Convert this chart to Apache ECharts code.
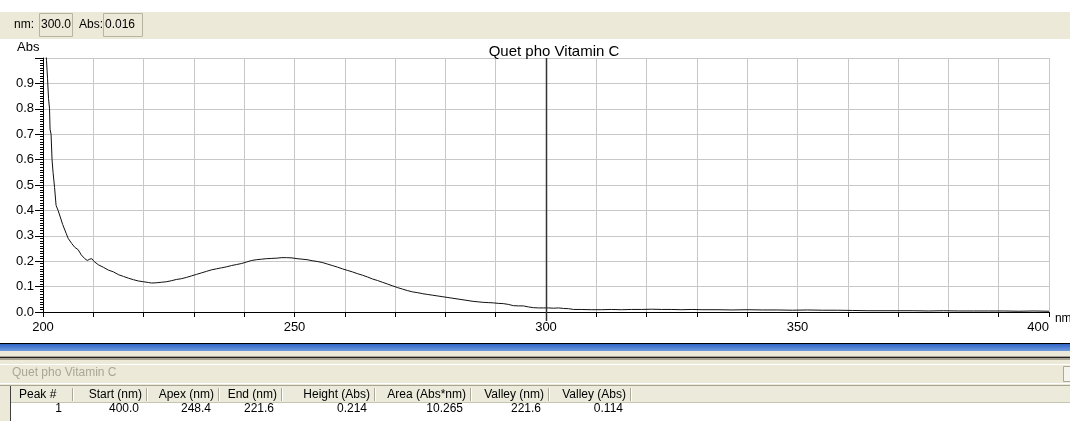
<!DOCTYPE html>
<html><head><meta charset="utf-8">
<script src="https://cdn.jsdelivr.net/npm/echarts@6/dist/echarts.min.js"></script>
<style>html,body{margin:0;padding:0;background:#fff;}#c{width:1070px;height:421px;}</style>
</head><body><div id="c"></div>
<script>
// ---- data ----
const chartTitle = 'Quet pho Vitamin C';
const wavelengths = [200.5,200.7,200.9,201.1,201.3,201.4,201.6,201.8,202.0,202.3,202.6,203.0,203.5,203.9,204.2,204.6,205.0,205.7,206.3,207.0,207.6,208.3,208.8,209.3,209.7,210.2,211,212,213,214,215,216,217,218,219,220,221,221.6,222.5,223.5,224.5,225.5,226.5,227.5,228.5,229.5,230.5,231.5,232.5,233.5,234.5,235.5,236.5,237.5,238.5,239.5,240.5,241.5,242.5,243.5,244.5,245.5,246.5,247.5,248.4,249.5,250.5,251.5,252.5,253.5,254.5,255.5,256.5,257.5,258.5,259.5,260.5,261.5,262.5,263.5,264.5,265.5,266.5,267.5,268.5,269.5,270.5,271.5,272.5,273.5,274.5,275.5,276.5,277.5,278.5,279.5,280.5,281.5,282.5,283.5,284.5,285.5,286.5,287.5,288.5,289.5,290.5,291.5,292.5,293.5,294.5,295.5,296.5,297.5,298.5,299.5,300.5,301.5,302.5,303.5,304.5,305.5,307,309,311,313,315,317,319,321,323,325,327,329,331,334,337,340,343,346,349,352,355,358,361,364,367,370,373,376,379,382,385,388,391,394,397,400];
const absorbance = [1.05,0.99,0.92,0.84,0.80,0.72,0.70,0.60,0.55,0.49,0.42,0.40,0.37,0.345,0.34,0.31,0.29,0.27,0.255,0.245,0.225,0.21,0.203,0.208,0.21,0.198,0.186,0.176,0.165,0.158,0.147,0.140,0.133,0.127,0.122,0.119,0.116,0.114,0.115,0.117,0.119,0.123,0.128,0.131,0.136,0.142,0.148,0.154,0.160,0.166,0.170,0.174,0.178,0.183,0.187,0.191,0.197,0.203,0.206,0.208,0.210,0.211,0.212,0.214,0.214,0.213,0.210,0.208,0.206,0.202,0.199,0.195,0.189,0.183,0.177,0.170,0.164,0.158,0.151,0.145,0.138,0.130,0.124,0.117,0.110,0.103,0.096,0.090,0.084,0.079,0.076,0.072,0.069,0.066,0.063,0.060,0.057,0.054,0.051,0.048,0.045,0.042,0.040,0.038,0.037,0.036,0.034,0.033,0.030,0.025,0.024,0.024,0.020,0.017,0.016,0.016,0.016,0.015,0.016,0.014,0.013,0.010,0.010,0.009,0.009,0.010,0.009,0.010,0.010,0.011,0.010,0.010,0.009,0.010,0.009,0.009,0.008,0.009,0.008,0.008,0.007,0.008,0.007,0.007,0.006,0.005,0.005,0.005,0.005,0.004,0.005,0.004,0.004,0.004,0.004,0.003,0.004,0.003];
const xLabels = [200, 250, 300, 350, 400];
const yLabels = ['0.0','0.1','0.2','0.3','0.4','0.5','0.6','0.7','0.8','0.9'];
const cursorNm = 300.0;
const cursorAbs = 0.016;
const tableHeaders = ['Peak #','Start (nm)','Apex (nm)','End (nm)','Height (Abs)','Area (Abs*nm)','Valley (nm)','Valley (Abs)'];
const tableRow = ['1','400.0','248.4','221.6','0.214','10.265','221.6','0.114'];

// ---- layout / style ----
const FONT = '"Liberation Sans", Arial, sans-serif';
const colRight = [72, 146, 218, 281, 374, 470, 548, 630];

const chart = echarts.init(document.getElementById('c'), null, {renderer: 'canvas'});
const seriesData = wavelengths.map((w, i) => [w, absorbance[i]]);

const g = [];
// top toolbar
g.push({type:'rect', shape:{x:0,y:12,width:1070,height:27}, style:{fill:'#ECE9D8'}, silent:true});
g.push({type:'text', style:{x:14, y:25, text:'nm:', font:'12px '+FONT, fill:'#000', textVerticalAlign:'middle'}});
g.push({type:'rect', shape:{x:39.5,y:13.5,width:33,height:23}, style:{fill:'#ECE9D8', stroke:'#B8B4A2', lineWidth:1}});
g.push({type:'text', style:{x:41, y:25, text:cursorNm.toFixed(1), font:'12px '+FONT, fill:'#000', textVerticalAlign:'middle'}});
g.push({type:'text', style:{x:79, y:25, text:'Abs:', font:'12px '+FONT, fill:'#000', textVerticalAlign:'middle'}});
g.push({type:'rect', shape:{x:103.5,y:13.5,width:39,height:23}, style:{fill:'#ECE9D8', stroke:'#B8B4A2', lineWidth:1}});
g.push({type:'text', style:{x:105, y:25, text:cursorAbs.toFixed(3), font:'12px '+FONT, fill:'#000', textVerticalAlign:'middle'}});
// y-axis name
g.push({type:'text', style:{x:17, y:47, text:'Abs', font:'13px '+FONT, fill:'#000', textVerticalAlign:'middle'}});

// bottom panel
g.push({type:'rect', shape:{x:0,y:343,width:1070,height:1}, style:{fill:'#000'}});
g.push({type:'rect', shape:{x:0,y:344,width:1070,height:7}, style:{fill:new echarts.graphic.LinearGradient(0,0,0,1,[{offset:0,color:'#2F64C4'},{offset:1,color:'#6F9BE0'}])}});
g.push({type:'rect', shape:{x:0,y:351,width:1070,height:70}, style:{fill:'#ECE9D8'}});
g.push({type:'rect', shape:{x:0,y:356,width:1070,height:4}, style:{fill:'#A7A494'}});
g.push({type:'rect', shape:{x:0,y:357,width:1070,height:1}, style:{fill:'#222'}});
g.push({type:'rect', shape:{x:0,y:364,width:1070,height:1}, style:{fill:'#FFFFFF'}});
g.push({type:'text', style:{x:12, y:373, text:chartTitle, font:'12px '+FONT, fill:'#A8A697', textVerticalAlign:'middle'}});
g.push({type:'rect', shape:{x:1063.5,y:366.5,width:10,height:15}, style:{fill:'#F4F3EE', stroke:'#ACA899'}});
g.push({type:'rect', shape:{x:0,y:383,width:1070,height:1}, style:{fill:'#FFFFFF'}});
g.push({type:'rect', shape:{x:0,y:385,width:1070,height:1}, style:{fill:'#A7A494'}});
// table
g.push({type:'rect', shape:{x:10,y:386,width:1060,height:17}, style:{fill:'#EBEADB'}});
g.push({type:'rect', shape:{x:10,y:403,width:1060,height:18}, style:{fill:'#FFFFFF'}});
g.push({type:'rect', shape:{x:10,y:402,width:1060,height:1}, style:{fill:'#C7C5B2'}});
g.push({type:'rect', shape:{x:10,y:386,width:1,height:35}, style:{fill:'#404040'}});
let prev = 11;
tableHeaders.forEach((h, i) => {
  const r = colRight[i];
  g.push({type:'rect', shape:{x:r,y:388,width:1,height:13}, style:{fill:'#ACA899'}});
  g.push({type:'rect', shape:{x:r+1,y:388,width:1,height:13}, style:{fill:'#FFFFFF'}});
  g.push({type:'text', style:{x:(i===0? prev+8 : r-4), y:395, text:h, font:'12px '+FONT, fill:'#000', textAlign:(i===0?'left':'right'), textVerticalAlign:'middle'}});
  g.push({type:'text', style:{x:(i===0? r-10 : r-7), y:409, text:tableRow[i], font:'12px '+FONT, fill:'#000', textAlign:'right', textVerticalAlign:'middle'}});
  prev = r;
});

const option = {
  animation: false,
  backgroundColor: '#fff',
  title: {
    text: chartTitle, left: 549, top: 39, textAlign: 'center',
    textStyle: {fontFamily: FONT, fontSize: 15, fontWeight: 'normal', color: '#000'}
  },
  grid: {left: 43, right: 21, top: 58, bottom: 109, containLabel: false, outerBoundsMode: 'none'},
  xAxis: {
    type: 'value', min: 200, max: 400, interval: 10,
    name: 'nm', nameLocation: 'end', nameGap: 0,
    nameTextStyle: {fontFamily: FONT, fontSize: 12, color: '#000', verticalAlign: 'top', padding: [1, 0, 0, 0]},
    axisLine: {show: true, lineStyle: {color: '#000', width: 1}},
    axisTick: {show: true, inside: false, length: 5, lineStyle: {color: '#000'}},
    axisLabel: {
      margin: 9, fontFamily: FONT, fontSize: 13, color: '#000', alignMaxLabel: 'right',
      formatter: v => (xLabels.indexOf(v) >= 0 ? String(v) : '')
    },
    splitLine: {show: true, lineStyle: {color: '#C8C8C8', width: 1}}
  },
  yAxis: {
    type: 'value', min: 0, max: 1.0, interval: 0.1,
    axisLine: {show: true, lineStyle: {color: '#000', width: 1}},
    axisTick: {show: true, length: 8, lineStyle: {color: '#000'}},
    minorTick: {show: true, splitNumber: 10, length: 3, lineStyle: {color: '#000'}},
    axisLabel: {
      margin: 9, fontFamily: FONT, fontSize: 13, color: '#000',
      formatter: v => { const i = Math.round(v * 10); return i < yLabels.length ? yLabels[i] : ''; }
    },
    splitLine: {show: true, lineStyle: {color: '#C8C8C8', width: 1}}
  },
  series: [{
    type: 'line', data: seriesData, showSymbol: false, symbol: 'none',
    lineStyle: {color: '#111', width: 1}, clip: true, z: 3
  }],
  graphic: g
};
chart.setOption(option);
// cursor line at cursorNm, positioned through the axis scales
const pTop = chart.convertToPixel({gridIndex: 0}, [cursorNm, 1.0]);
const pBot = chart.convertToPixel({gridIndex: 0}, [cursorNm, 0]);
const cx = Math.round(pTop[0]) + 0.5;
chart.setOption({graphic: g.concat([{
  type: 'line', z: 10,
  shape: {x1: cx, y1: pTop[1], x2: cx, y2: pBot[1] + 9},
  style: {stroke: '#333', lineWidth: 1.5}
}])});
</script></body></html>
